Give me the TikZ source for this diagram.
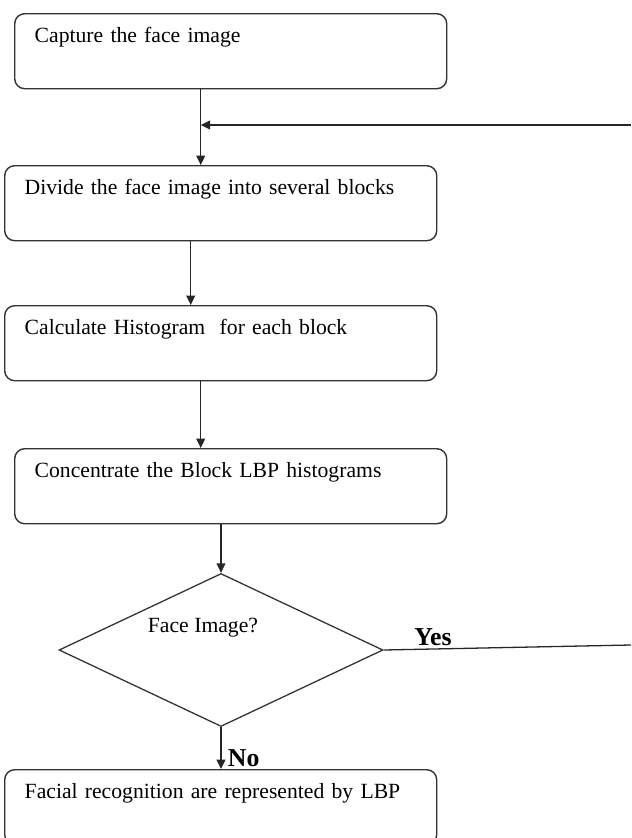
\documentclass[tikz,border=0pt]{standalone}
\usepackage{fontspec}
\setmainfont{Liberation Serif}
\usetikzlibrary{calc,shapes.geometric,arrows.meta}
\tikzset{
    stepbox/.style={draw=black!80, line width=1.2pt, rounded corners=0.3cm,
      anchor=north west, align=left, text width=11.76cm, inner xsep=0.6cm,
      inner ysep=0pt, text height=0.855cm, text depth=1.395cm,
      font=\fontsize{18.5}{22}\selectfont},
    decision/.style={draw=black!80, line width=1.1pt, diamond, inner sep=0pt,
      minimum width=9.72cm, minimum height=4.59cm},
    flow/.style={draw=black!85, line width=1.1pt, -{Triangle[length=8pt,width=7.5pt]}},
    answer/.style={font=\fontsize{22}{26}\selectfont\bfseries},
  }
\begin{document}
\begin{tikzpicture}[x=0.03cm,y=-0.03cm]
				  \useasboundingbox (0,0) rectangle (631,838);

				   %STEPS
				  \node[stepbox] (capture) at (14,13) {Capture the face image};
				  \node[stepbox] (divide) at (4,165) {Divide the face image into several blocks};
				  \node[stepbox] (histogram) at (4,305) {Calculate Histogram\ \ for each block};
				  \node[stepbox] (concat) at (14,448) {Concentrate the Block LBP histograms};
				  \node[decision] (face) at (221,650) {};
				  \node[font=\fontsize{18.5}{22}\selectfont] (facetext) at (203,628) {Face Image?};
				  \node[stepbox] (recog) at (4,769) {Facial recognition are represented by LBP};

				  %ARROWS
				  \coordinate (a1) at ($(capture.south)+(-30,0)$);
				  \coordinate (a2) at ($(divide.south)+(-30,0)$);
				  \coordinate (a3) at ($(histogram.south)+(-20,0)$);
				  \draw[flow] (a1) -- (a1 |- divide.north);
				  \draw[flow] (a2) -- (a2 |- histogram.north);
				  \draw[flow] (a3) -- (a3 |- concat.north);
				  \draw[flow] (face.north |- concat.south) -- (face.north);
				  \draw[flow] (face.south) -- (face.south |- recog.north) node[answer, right=2pt, pos=0.75] (no) {No};

				  %LOOP BACK
				  \coordinate (loopout) at (631,645);
				  \coordinate (loopin) at (631,125);
				  \draw[draw=black!85, line width=1.1pt] (face.east) -- (loopout);
				  \node[answer] (yes) at (433,637) {Yes};
				  \draw[flow] (loopin) -- (a1 |- loopin);
\end{tikzpicture}
\end{document}
